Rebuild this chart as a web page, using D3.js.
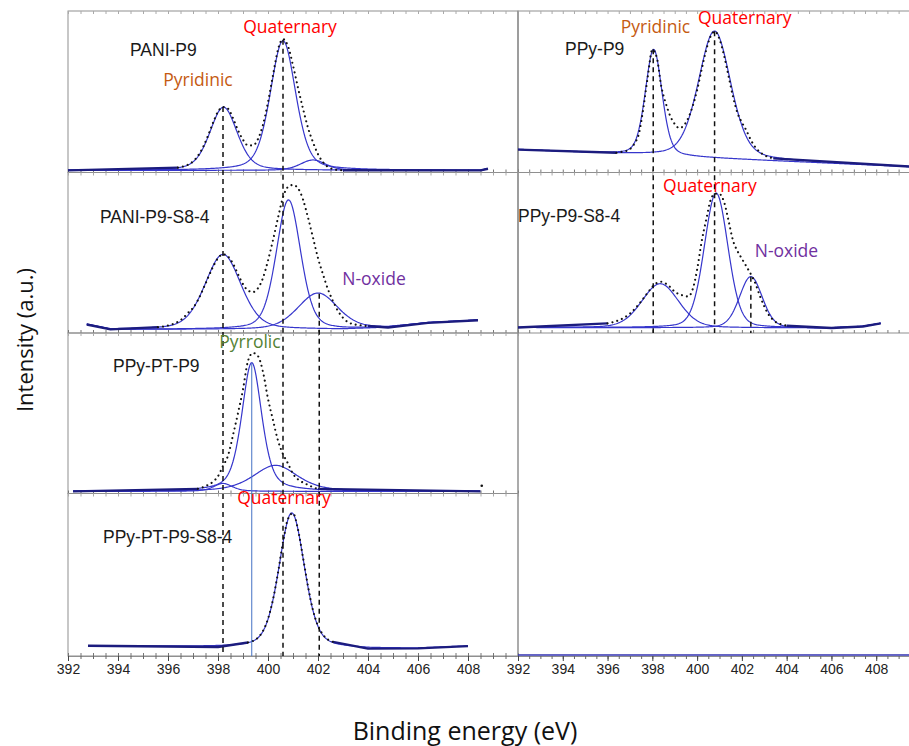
<!DOCTYPE html>
<html>
<head>
<meta charset="utf-8">
<script src="https://cdn.jsdelivr.net/npm/d3@7"></script>
<style>
  body { margin: 0; background: #fff; }
  svg { display: block; }
</style>
</head>
<body>
<div id="chart"></div>
<script>
// ---- data ----
const energyTicks = [392, 394, 396, 398, 400, 402, 404, 406, 408];
const minorTicks = [392, 392.5, 393, 393.5, 394, 394.5, 395, 395.5, 396, 396.5, 397, 397.5, 398, 398.5, 399, 399.5,
                    400, 400.5, 401, 401.5, 402, 402.5, 403, 403.5, 404, 404.5, 405, 405.5, 406, 406.5, 407, 407.5, 408, 408.5, 409, 409.5, 410];
const sampleNames = ["PANI-P9", "PANI-P9-S8-4", "PPy-PT-P9", "PPy-PT-P9-S8-4", "PPy-P9", "PPy-P9-S8-4"];
const dotStep = 0.2;

// fitted components: [centre eV, height, fwhm]; baseline knots: [eV, intensity]
const paniP9Peaks = [[398.22, 0.395, 1.3], [400.6, 0.81, 1.2], [401.8, 0.065, 1.2]];
const paniP9Base = [[392.0, 0.004], [408.5, 0.004], [408.8, 0.014]];
const paniP9Mix = 0.35;
const paniP9DotStart = 396.4;
const paniP9Dots = [0.021, 0.028, 0.039, 0.06, 0.095, 0.149, 0.221, 0.301, 0.371, 0.40, 0.39, 0.33, 0.255, 0.195, 0.16, 0.16,
                    0.20, 0.29, 0.43, 0.60, 0.76, 0.825, 0.78, 0.66, 0.52, 0.39, 0.27, 0.18, 0.105, 0.055, 0.025, 0.012, 0.006, 0.005];

const paniS8Peaks = [[398.2, 0.475, 1.7], [400.82, 0.82, 1.15], [402.0, 0.23, 1.9]];
const paniS8Base = [[392.75, 0.035], [393.7, 0.004], [403.0, 0.004], [404.8, 0.016], [406.4, 0.045], [408.4, 0.062]];
const paniS8Mix = 0.3;
const paniS8DotStart = 395.6;
const paniS8Dots = [0.018, 0.022, 0.028, 0.038, 0.052, 0.075, 0.108, 0.14, 0.19, 0.257, 0.33, 0.40, 0.454, 0.479, 0.465,
                    0.42, 0.353, 0.29, 0.25, 0.24, 0.265, 0.33, 0.44, 0.57, 0.71, 0.84, 0.905, 0.918, 0.897, 0.826, 0.712,
                    0.585, 0.455, 0.352, 0.257, 0.183, 0.12, 0.077, 0.05, 0.037, 0.032, 0.028, 0.025];

const ppyPtPeaks = [[399.35, 0.815, 0.95], [400.3, 0.165, 2.1], [398.2, 0.05, 0.9]];
const ppyPtBase = [[392.2, 0.004], [408.5, 0.004]];
const ppyPtMix = 0.5;
const ppyPtDotStart = 397.2;
const ppyPtDots = [0.02, 0.03, 0.045, 0.065, 0.10, 0.165, 0.23, 0.36, 0.50, 0.65, 0.83, 0.88, 0.86, 0.76, 0.59, 0.455,
                   0.325, 0.24, 0.18, 0.115, 0.08, 0.06, 0.045, 0.03, 0.02];
const ppyPtExtra = [[408.55, 0.04]];

const ppyPtS8Peaks = [[400.95, 0.885, 1.2]];
const ppyPtS8Base = [[392.8, 0.008], [398.0, 0.0], [402.5, -0.004], [404.0, -0.011], [406.0, -0.009], [408.0, 0.006]];
const ppyPtS8Mix = 0.3;
const ppyPtS8DotStart = 399.2;
const ppyPtS8Dots = [0.03, 0.04, 0.062, 0.106, 0.186, 0.313, 0.49, 0.689, 0.843, 0.88, 0.774, 0.589, 0.40, 0.241, 0.139,
                     0.081, 0.049, 0.034];

const ppyP9Peaks = [[398.06, 0.664, 0.88], [400.78, 0.795, 1.7]];
const ppyP9Base = [[392.0, 0.14], [410.0, 0.03]];
const ppyP9Mix = 0.3;
const ppyP9DotStart = 396.4;
const ppyP9Dots = [0.12, 0.125, 0.13, 0.143, 0.177, 0.24, 0.40, 0.60, 0.765, 0.715, 0.535, 0.43, 0.35, 0.30, 0.275, 0.29,
                   0.336, 0.41, 0.512, 0.639, 0.759, 0.847, 0.878, 0.83, 0.73, 0.603, 0.473, 0.37, 0.31, 0.26, 0.20,
                   0.155, 0.125, 0.105, 0.093, 0.085];

const ppyS8Peaks = [[398.35, 0.286, 1.95], [400.85, 0.875, 1.25], [402.4, 0.333, 1.2]];
const ppyS8Base = [[392.0, 0.003], [406.0, 0.0], [407.4, 0.01], [408.2, 0.03]];
const ppyS8Mix = 0.2;
const ppyS8DotStart = 396.0;
const ppyS8Dots = [0.03, 0.036, 0.045, 0.056, 0.073, 0.094, 0.122, 0.155, 0.192, 0.231, 0.267, 0.292, 0.30, 0.288, 0.266,
                   0.235, 0.22, 0.21, 0.205, 0.25, 0.38, 0.56, 0.70, 0.83, 0.872, 0.87, 0.82, 0.70, 0.57, 0.50, 0.45, 0.40,
                   0.35, 0.29, 0.21, 0.14, 0.085, 0.052, 0.032, 0.022, 0.015];

// reference lines: [eV, panel in column, intensity where the line starts]
const leftMarkers = [[398.2, 0, 0.40], [400.6, 0, 0.82], [402.05, 1, 0.23]];
const rightMarkers = [[398.04, 0, 0.767], [400.78, 0, 0.88], [402.4, 1, 0.333]];
const pyrrolicMarker = [399.35, 2, 0.815];

// peak labels: [text, panel, eV (centre), intensity (baseline)]
const peakLabels = [
  ["Pyridinic", 0, 397.2, 0.53], ["Quaternary", 0, 400.88, 0.862],
  ["N-oxide", 1, 404.24, 0.285], ["Pyrrolic", 2, 399.28, 0.91], ["Quaternary", 3, 400.64, 0.94],
  ["Pyridinic", 4, 398.14, 0.87], ["Quaternary", 4, 402.13, 0.925],
  ["Quaternary", 5, 400.57, 0.883], ["N-oxide", 5, 403.99, 0.461]
];
const labelColors = { "Pyridinic": "#c55a11", "Quaternary": "#ff0000", "N-oxide": "#7030a0", "Pyrrolic": "#548235" };

// ---- layout ----
const width = 909, height = 746;
const axisY = 656;
const columns = [
  { x: d3.scaleLinear().domain([392, 410]).range([68, 518]), left: 68, right: 518, bottom: 656 },
  { x: d3.scaleLinear().domain([392, 410]).range([518, 921]), left: 518, right: 921, bottom: 333 }
];

const panels = [
  { col: 0, top: 11, bottom: 172.5, zero: 171, one: 11, peaks: paniP9Peaks, base: paniP9Base, mix: paniP9Mix, dotStart: paniP9DotStart, dots: paniP9Dots, nameE: 394.48, nameI: 0.719 },
  { col: 0, top: 172.5, bottom: 333, zero: 330, one: 172, peaks: paniS8Peaks, base: paniS8Base, mix: paniS8Mix, dotStart: paniS8DotStart, dots: paniS8Dots, nameE: 393.28, nameI: 0.677 },
  { col: 0, top: 333, bottom: 493.5, zero: 492, one: 334, peaks: ppyPtPeaks, base: ppyPtBase, mix: ppyPtMix, dotStart: ppyPtDotStart, dots: ppyPtDots, extra: ppyPtExtra, nameE: 393.8, nameI: 0.76 },
  { col: 0, top: 493.5, bottom: 656, zero: 647, one: 495, peaks: ppyPtS8Peaks, base: ppyPtS8Base, mix: ppyPtS8Mix, dotStart: ppyPtS8DotStart, dots: ppyPtS8Dots, nameE: 393.4, nameI: 0.684 },
  { col: 1, top: 11, bottom: 172.5, zero: 172, one: 12, peaks: ppyP9Peaks, base: ppyP9Base, mix: ppyP9Mix, dotStart: ppyP9DotStart, dots: ppyP9Dots, nameE: 394.1, nameI: 0.731 },
  { col: 1, top: 172.5, bottom: 333, zero: 328, one: 174, peaks: ppyS8Peaks, base: ppyS8Base, mix: ppyS8Mix, dotStart: ppyS8DotStart, dots: ppyS8Dots, nameE: 392.0, nameI: 0.688 }
];
panels.forEach((p, i) => {
  p.name = sampleNames[i];
  p.y = d3.scaleLinear().domain([0, 1]).range([p.zero, p.one]);
});

const compColor = "#3636cc";
const dataColor = "#1c1c7e";

// pseudo-Voigt peak shape
function peakValue(e, peak, mix) {
  const t = (e - peak[0]) / peak[2];
  return peak[1] * ((1 - mix) * Math.exp(-4 * Math.LN2 * t * t) + mix / (1 + 4 * t * t));
}

// ---- drawing ----
const svg = d3.select("#chart").append("svg")
  .attr("width", width)
  .attr("height", height)
  .style("font-family", "'Liberation Sans', Arial, sans-serif");

// panel frames and inner ticks
panels.forEach(p => {
  const c = columns[p.col];
  svg.append("rect")
    .attr("x", c.left).attr("y", p.top)
    .attr("width", c.right - c.left).attr("height", p.bottom - p.top)
    .attr("fill", "none").attr("stroke", "#8f8f8f").attr("stroke-width", 1);

  const gb = svg.append("g").attr("transform", `translate(0,${p.bottom})`)
    .call(d3.axisTop(c.x).tickValues(minorTicks).tickSize(3).tickFormat(""));
  gb.select(".domain").remove();
  gb.selectAll("line").attr("stroke", "#777");

  const gt = svg.append("g").attr("transform", `translate(0,${p.top})`)
    .call(d3.axisBottom(c.x).tickValues(minorTicks).tickSize(3).tickFormat(""));
  gt.select(".domain").remove();
  gt.selectAll("line").attr("stroke", "#aaa");
});

// left border of the empty lower-right area
svg.append("line")
  .attr("x1", 518).attr("x2", 518).attr("y1", 11).attr("y2", axisY)
  .attr("stroke", "#8f8f8f");

// bottom axes
columns.forEach(c => {
  const gMinor = svg.append("g").attr("transform", `translate(0,${axisY})`)
    .call(d3.axisBottom(c.x).tickValues(minorTicks).tickSize(3).tickSizeOuter(0).tickFormat(""));
  gMinor.select(".domain").attr("stroke", "#8f8f8f");
  gMinor.selectAll("line").attr("stroke", "#666");

  const gx = svg.append("g").attr("transform", `translate(0,${axisY})`)
    .call(d3.axisBottom(c.x).tickValues(energyTicks).tickSize(5).tickSizeOuter(0).tickFormat(d3.format("d")));
  gx.select(".domain").remove();
  gx.selectAll("line").attr("stroke", "#444");
  gx.selectAll("text")
    .attr("font-size", 14)
    .attr("fill", "#222")
    .attr("font-family", "'Liberation Sans', Arial, sans-serif");
});

// baseline of the empty lower-right plot
svg.append("line")
  .attr("x1", columns[1].x(392)).attr("x2", width)
  .attr("y1", axisY - 1).attr("y2", axisY - 1)
  .attr("stroke", "#3030b0").attr("stroke-width", 1.5);

// curves
panels.forEach(p => {
  const x = columns[p.col].x;
  const y = p.y;
  const baseFn = d3.scaleLinear()
    .domain(p.base.map(d => d[0]))
    .range(p.base.map(d => d[1]))
    .clamp(true);
  const e0 = p.base[0][0], e1 = p.base[p.base.length - 1][0];
  const grid = d3.range(e0, e1 + 1e-9, 0.04);
  const line = d3.line().x(d => x(d[0])).y(d => y(d[1]));
  const smooth = d3.line().x(d => x(d[0])).y(d => y(d[1])).curve(d3.curveMonotoneX);

  const g = svg.append("g");

  // fitted components
  p.peaks.forEach(pk => {
    g.append("path")
      .attr("d", line(grid.map(e => [e, baseFn(e) + peakValue(e, pk, p.mix)])))
      .attr("fill", "none")
      .attr("stroke", compColor)
      .attr("stroke-width", 1.2);
  });

  // measured points
  const pts = p.dots.map((v, i) => [p.dotStart + i * dotStep, v]);
  const dotEnd = pts[pts.length - 1];

  // flat parts of the measured curve (dense points look like a thick line)
  const leftFlat = p.base.filter(d => d[0] < p.dotStart).concat([pts[0]]);
  const rightFlat = [dotEnd].concat(p.base.filter(d => d[0] > dotEnd[0]));
  [leftFlat, rightFlat].forEach(seg => {
    if (seg.length < 2) return;
    g.append("path")
      .attr("d", line(seg))
      .attr("fill", "none")
      .attr("stroke", dataColor)
      .attr("stroke-width", 2.4)
      .attr("stroke-linejoin", "round");
  });

  // the measured spectrum as a dotted trace
  g.append("path")
    .attr("d", smooth(pts))
    .attr("fill", "none")
    .attr("stroke", "#111")
    .attr("stroke-width", 2.1)
    .attr("stroke-linecap", "round")
    .attr("stroke-dasharray", "0.01 5");

  g.selectAll("circle.pt")
    .data(p.extra || [])
    .join("circle")
    .attr("class", "pt")
    .attr("cx", d => x(d[0]))
    .attr("cy", d => y(d[1]))
    .attr("r", 1.3)
    .attr("fill", "#111");
});

// dashed reference lines
function drawMarker(m, col, dash, color, w) {
  const c = columns[col];
  const p = panels.filter(q => q.col === col)[m[1]];
  svg.append("line")
    .attr("x1", c.x(m[0])).attr("x2", c.x(m[0]))
    .attr("y1", p.y(m[2])).attr("y2", c.bottom)
    .attr("stroke", color)
    .attr("stroke-width", w)
    .attr("stroke-dasharray", dash);
}
leftMarkers.forEach(m => drawMarker(m, 0, "5,4", "#111", 1.5));
rightMarkers.forEach(m => drawMarker(m, 1, "5,4", "#111", 1.5));
drawMarker(pyrrolicMarker, 0, null, "#4472c4", 1);

// sample names
panels.forEach(p => {
  svg.append("text")
    .attr("x", columns[p.col].x(p.nameE))
    .attr("y", p.y(p.nameI))
    .attr("font-size", 17.5)
    .attr("fill", "#1a1a1a")
    .text(p.name);
});

// peak labels
peakLabels.forEach(l => {
  const p = panels[l[1]];
  svg.append("text")
    .attr("x", columns[p.col].x(l[2]))
    .attr("y", p.y(l[3]))
    .attr("text-anchor", "middle")
    .attr("font-family", "'Open Sans', sans-serif")
    .attr("font-size", 17.5)
    .attr("fill", labelColors[l[0]])
    .text(l[0]);
});

// axis titles
svg.append("text")
  .attr("transform", "translate(33,340) rotate(-90)")
  .attr("text-anchor", "middle")
  .attr("font-family", "'Open Sans', sans-serif")
  .attr("font-size", 22)
  .attr("fill", "#111")
  .text("Intensity (a.u.)");

svg.append("text")
  .attr("x", 465)
  .attr("y", 740)
  .attr("text-anchor", "middle")
  .attr("font-family", "'Open Sans', sans-serif")
  .attr("font-size", 25)
  .attr("fill", "#111")
  .text("Binding energy (eV)");
</script>
</body>
</html>
